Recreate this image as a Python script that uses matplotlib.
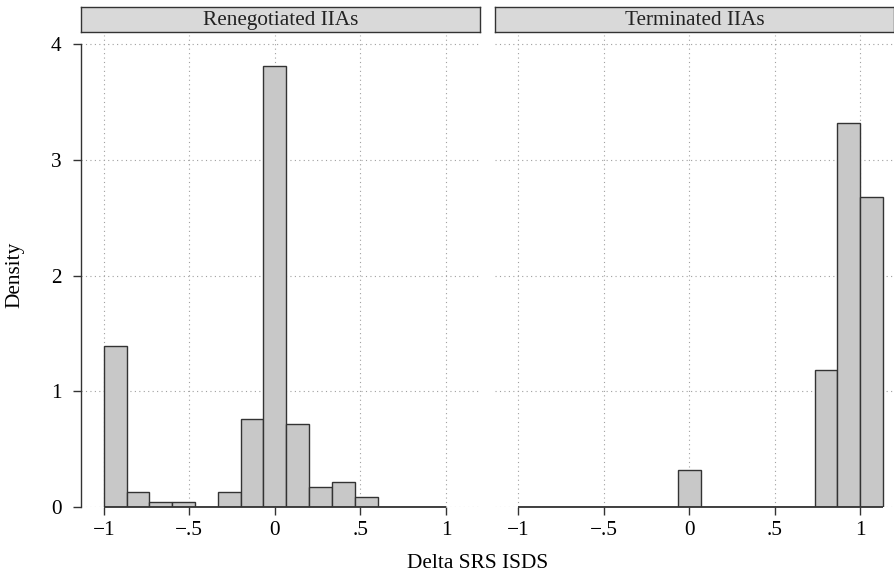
import numpy as np
import matplotlib
matplotlib.use("Agg")
import matplotlib.pyplot as plt

plt.rcParams["font.family"] = ["Liberation Serif", "DejaVu Serif"]

# histogram bins: width 2/15 starting at -1
bin_width = 2 / 15
bin_start = -1.0

panels = ["Renegotiated IIAs", "Terminated IIAs"]
renegotiated_density = [1.39, 0.13, 0.045, 0.045, 0.0, 0.13, 0.76, 3.81,
                        0.72, 0.175, 0.215, 0.09, 0.0, 0.0, 0.0]
terminated_density = [0.0, 0.0, 0.0, 0.0, 0.0, 0.0, 0.0, 0.32,
                      0.0, 0.0, 0.0, 0.0, 0.0, 1.18, 3.32, 2.68]

x_ticks = [-1, -0.5, 0, 0.5, 1]
x_ticklabels = ["\u22121", "\u2212.5", "0", ".5", "1"]
y_ticks = [0, 1, 2, 3, 4]
y_ticklabels = ["0", "1", "2", "3", "4"]

W, H = 895, 577
fig = plt.figure(figsize=(W / 100, H / 100), dpi=100)

ax_bottom = 1 - 507 / H
ax_top = 1 - 35 / H
ax_h = ax_top - ax_bottom
strip_bottom = 1 - 32 / H
strip_h = 25 / H

lefts = [80.7 / W, 495 / W]
width = 399 / W

fs = 15.3
edge_col = "#333333"
for i, (name, dens) in enumerate(zip(panels, [renegotiated_density, terminated_density])):
    ax = fig.add_axes([lefts[i], ax_bottom, width, ax_h])
    edges = bin_start + bin_width * np.arange(len(dens))
    ax.bar(edges, dens, width=bin_width, align="edge", color="#c8c8c8",
           edgecolor=edge_col, linewidth=1.0, zorder=3)
    # zero-height bins still show their outline along the baseline
    ax.hlines(0, edges[0], edges[-1] + bin_width, color=edge_col, linewidth=1.3,
              zorder=4, clip_on=False)
    ax.set_xlim(-1.135, 1.197)
    ax.set_ylim(0, 4.078)
    ax.set_xticks(x_ticks)
    ax.set_xticklabels(x_ticklabels, fontsize=fs)
    ax.set_yticks(y_ticks)
    ax.grid(True, linestyle=(0, (1, 3)), color="#a0a0a0", linewidth=0.8, zorder=0)
    ax.tick_params(axis="x", length=6, width=1.0, color=edge_col, pad=4)
    for s in ["top", "right", "bottom"]:
        ax.spines[s].set_visible(False)
    if i == 0:
        ax.spines["left"].set_bounds(0, 4)
        ax.spines["left"].set_color(edge_col)
        ax.spines["left"].set_linewidth(1.0)
        ax.set_yticklabels(y_ticklabels, fontsize=fs)
        ax.tick_params(axis="y", length=6, width=1.0, color=edge_col, pad=8)
    else:
        ax.spines["left"].set_visible(False)
        ax.tick_params(axis="y", length=0, labelleft=False)

    # panel strip
    sax = fig.add_axes([lefts[i], strip_bottom, width, strip_h])
    sax.set_xticks([])
    sax.set_yticks([])
    sax.set_facecolor("#d9d9d9")
    for s in sax.spines.values():
        s.set_color(edge_col)
        s.set_linewidth(1.0)
    sax.text(0.5, 0.45, name, ha="center", va="center", fontsize=fs, color="#222222",
             transform=sax.transAxes)

fig.text(15 / W, 1 - 275 / H, "Density", rotation=90, ha="center", va="center", fontsize=fs)
fig.text(478 / W, 1 - 563 / H, "Delta SRS ISDS", ha="center", va="center", fontsize=fs)

fig.savefig("out.png", dpi=100)
